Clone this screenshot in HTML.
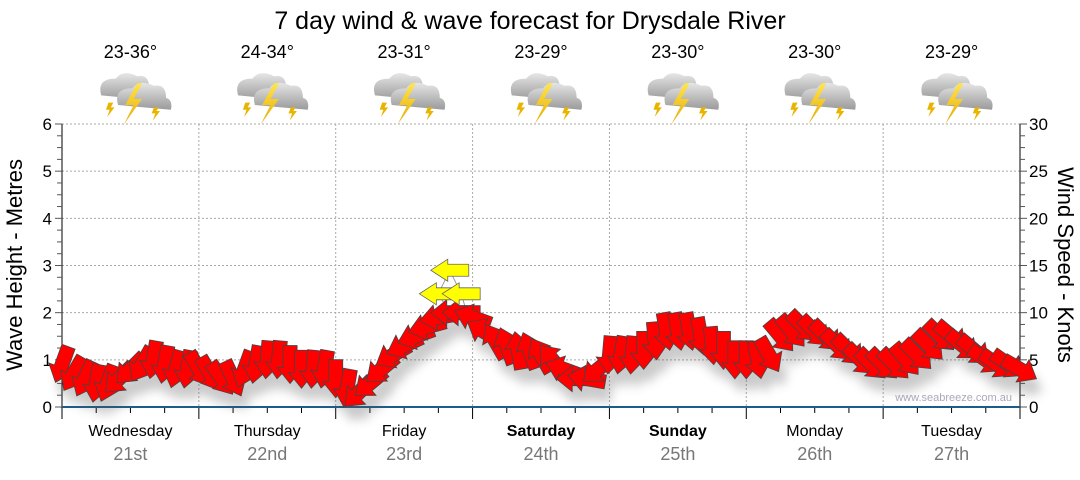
<!DOCTYPE html>
<html><head><meta charset="utf-8">
<style>
body{margin:0;background:#fff;}
svg text{font-family:"Liberation Sans",sans-serif;}
</style></head>
<body>
<svg id="c" width="1080" height="475" viewBox="0 0 1080 475" xmlns="http://www.w3.org/2000/svg">
<defs>
<filter id="sh" x="-50%" y="-50%" width="200%" height="200%"><feGaussianBlur stdDeviation="5"/></filter>
<linearGradient id="cl" x1="0" y1="0" x2="0" y2="1"><stop offset="0" stop-color="#e6e6e6"/><stop offset="1" stop-color="#9a9a9a"/></linearGradient>
<linearGradient id="bolt" x1="0" y1="0" x2="0" y2="1"><stop offset="0" stop-color="#ffe64a"/><stop offset="1" stop-color="#e8a800"/></linearGradient>
</defs>
<text x="530" y="29" font-size="25" text-anchor="middle" fill="#000">7 day wind &amp; wave forecast for Drysdale River</text>
<g id="plot"></g>
</svg>
<script>
const dayNames=["Wednesday","Thursday","Friday","Saturday","Sunday","Monday","Tuesday"];
const dayDates=["21st","22nd","23rd","24th","25th","26th","27th"];
const boldDays=[false,false,false,true,true,false,false];
const temps=["23-36°","24-34°","23-31°","23-29°","23-30°","23-30°","23-29°"];
const waveTicks=[0,1,2,3,4,5,6];
const windTicks=[0,5,10,15,20,25,30];
// wave height (m) every 2 hours from start of Wednesday
const waveHeights=[0.9,0.7,0.6,0.5,0.5,0.6,0.8,0.9,1.0,0.9,0.8,0.8,
 0.8,0.7,0.6,0.6,0.8,0.9,1.0,1.0,0.9,0.8,0.8,0.8,
 0.6,0.4,0.3,0.5,0.8,1.1,1.3,1.5,1.7,1.9,2.0,2.0,
 1.9,1.6,1.4,1.3,1.2,1.2,1.1,1.0,0.8,0.6,0.6,0.8,
 1.1,1.1,1.1,1.2,1.4,1.6,1.6,1.6,1.5,1.3,1.2,1.0,
 1.0,1.0,1.1,1.5,1.6,1.7,1.6,1.5,1.3,1.2,1.0,0.9,
 0.9,0.9,1.0,1.1,1.3,1.5,1.5,1.3,1.2,1.0,0.9,0.9,0.8];
// arrow pointing direction (screen degrees, 0=right, 90=down)
const windDirs=[110,120,115,100,110,135,135,120,100,100,105,100,
 60,60,55,65,110,100,95,95,90,90,95,100,
 90,100,135,140,140,150,155,160,165,170,180,180,
 200,210,240,250,260,250,240,230,200,180,190,140,
 95,100,95,90,85,80,80,80,80,85,90,90,
 90,80,60,50,50,45,45,45,45,45,45,45,
 45,45,50,45,45,45,40,40,40,35,35,35,30];
const STEP=2;
const swellHours=[66,68,70];
const swellHeights=[2.4,2.9,2.4];

const X0=62,X1=1020,Y0=407,YT=124,HOURS=168;
const xs=h=>X0+h/HOURS*(X1-X0);
const ys=m=>Y0-m/6*(Y0-YT);
const NS="http://www.w3.org/2000/svg";
const g=document.getElementById('plot');
function mk(tag,attrs,parent){const e=document.createElementNS(NS,tag);for(const k in attrs)e.setAttribute(k,attrs[k]);(parent||g).appendChild(e);return e;}

for(let i=1;i<=6;i++){const l=mk('line',{x1:X0,x2:X1,y1:ys(i),y2:ys(i),stroke:'#aaa','stroke-dasharray':'2,2'});

}
for(let d=1;d<7;d++){const l=mk('line',{x1:xs(d*24),x2:xs(d*24),y1:YT,y2:Y0,stroke:'#aaa','stroke-dasharray':'2,2'});

}
mk('line',{x1:X0,x2:X0,y1:YT,y2:Y0+6,stroke:'#000'});
mk('line',{x1:X1,x2:X1,y1:YT,y2:Y0,stroke:'#000'});
for(let i=0;i<=24;i++){const v=i/4,len=i%4==0?7:5;
 mk('line',{x1:X0-len,x2:X0,y1:ys(v),y2:ys(v),stroke:'#555'});
 mk('line',{x1:X1,x2:X1+len,y1:ys(v),y2:ys(v),stroke:'#555'});}
waveTicks.forEach(v=>{const t=mk('text',{x:X0-10,y:ys(v)+6,'font-size':17,'text-anchor':'end',fill:'#000'});t.textContent=v;

});
windTicks.forEach(v=>{const t=mk('text',{x:X1+9,y:ys(v/5)+6,'font-size':17,fill:'#000'});t.textContent=v;

});
let t=mk('text',{x:22,y:265,'font-size':22,'text-anchor':'middle',transform:'rotate(-90 22 265)'});t.textContent='Wave Height - Metres';


t=mk('text',{x:1058,y:265,'font-size':22,'text-anchor':'middle',transform:'rotate(90 1058 265)'});t.textContent='Wind Speed - Knots';


for(let h=0;h<=HOURS;h+=6){const major=h%24==0;mk('line',{x1:xs(h),x2:xs(h),y1:Y0,y2:Y0+(major?12:6),stroke:'#000'});}
mk('line',{x1:X0,x2:X1,y1:Y0,y2:Y0,stroke:'#1b5c8c','stroke-width':2});
dayNames.forEach((n,i)=>{const cx=xs(i*24+12);
 let a=mk('text',{x:cx,y:436,'font-size':16,'text-anchor':'middle','font-weight':boldDays[i]?'bold':'normal'});a.textContent=n;
 
 
 a=mk('text',{x:cx,y:460,'font-size':18,'text-anchor':'middle',fill:'#777'});a.textContent=dayDates[i];
 
 
 a=mk('text',{x:cx,y:58,'font-size':18,'text-anchor':'middle'});a.textContent=temps[i];
 
 
 const ic=mk('g',{transform:`translate(${cx-34},69) scale(1.2)`});
 
 
 mk('path',{d:'M4,22 q-4,-14 12,-14 q6,-8 18,-2 q10,-2 10,10 q6,2 4,10 z',fill:'url(#cl)'},ic);
 mk('path',{d:'M18,30 q-4,-14 12,-14 q6,-8 18,-2 q10,-2 10,10 q6,2 4,10 z',fill:'url(#cl)'},ic);
 mk('path',{d:'M34,12 L24,30 L31,30 L23,46 L38,25 L31,25 L38,12 z',fill:'url(#bolt)'},ic);
 mk('path',{d:'M10,28 L8,34 L11,34 L9,40 L15,32 L12,32 L14,28 z',fill:'#e8b400'},ic);
 mk('path',{d:'M48,32 L46,37 L49,37 L47,43 L53,35 L50,35 L52,32 z',fill:'#e8b400'},ic);
});
let wm=mk('text',{x:1012,y:401,'font-size':11,'text-anchor':'end',fill:'#aab'});wm.textContent='www.seabreeze.com.au';



const AR='-19,-7 3,-7 3,-13 19,0 3,13 3,7 -19,7';
const sx=swellHours.map(xs), sy=swellHeights.map(ys);
mk('polyline',{points:`${xs(68)},${ys(2.0)} ${sx[0]},${sy[0]} ${sx[1]},${sy[1]} ${sx[2]},${sy[2]} ${xs(71)},${ys(2.0)}`,fill:'none',stroke:'#999'});
const shg=mk('g',{filter:'url(#sh)',opacity:0.3});
waveHeights.forEach((v,i)=>{mk('polygon',{points:AR,fill:'#555',transform:`translate(${xs(i*STEP)+6},${ys(v)+14}) rotate(${windDirs[i]})`},shg);});
waveHeights.forEach((v,i)=>{const p=mk('polygon',{points:AR,fill:'#ff0000',stroke:'#444','stroke-width':0.8,transform:`translate(${xs(i*STEP)},${ys(v)}) rotate(${windDirs[i]})`});

});
swellHeights.forEach((v,i)=>{const p=mk('polygon',{points:'-19,-6 2,-6 2,-11 19,0 2,11 2,6 -19,6',fill:'#ffff00',stroke:'#666','stroke-width':0.8,transform:`translate(${xs(swellHours[i])},${ys(v)}) rotate(180)`});

});
</script>
</body></html>
